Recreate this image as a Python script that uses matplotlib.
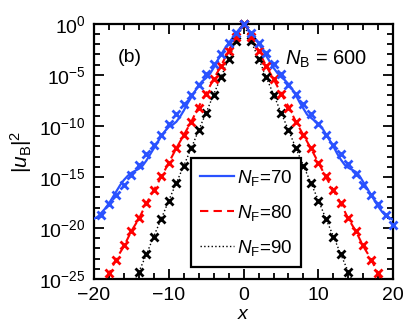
import numpy as np
import matplotlib
matplotlib.use('Agg')
import matplotlib.pyplot as plt
from matplotlib.ticker import FixedLocator, NullFormatter, FuncFormatter

plt.rcParams['font.family'] = ['Liberation Sans', 'DejaVu Sans']
plt.rcParams['mathtext.fontset'] = 'custom'
plt.rcParams['mathtext.rm'] = 'Liberation Sans'
plt.rcParams['mathtext.it'] = 'Liberation Sans:italic'
plt.rcParams['mathtext.bf'] = 'Liberation Sans:bold'

# log10 |u_B|^2
x_blue_line = np.arange(-20, 20.5, 0.5)
blue_line = [-19.1, -18.9, -18.5, -18.1, -17.6, -17.0, -16.4, -15.8, -15.3, -14.9,
             -14.6, -14.4, -14.2, -13.9, -13.4, -12.8, -12.2, -11.6, -11.0, -10.5,
             -10.1, -9.9, -9.6, -9.1, -8.5, -7.8, -7.2, -6.6, -6.0, -5.6,
             -5.3, -4.9, -4.3, -3.6, -3.0, -2.4, -1.9, -1.4, -0.9, -0.45, 0.0,
             -0.45, -0.9, -1.4, -1.9, -2.5, -3.1, -3.7, -4.3, -4.8, -5.2,
             -5.5, -5.9, -6.4, -7.0, -7.7, -8.3, -8.9, -9.2, -9.5, -9.8,
             -10.2, -10.8, -11.4, -12.0, -12.7, -13.3, -13.8, -14.1, -14.3, -14.5,
             -14.9, -15.5, -16.1, -16.7, -17.3, -17.9, -18.4, -18.8, -19.0, -19.2]
x_line = np.arange(-20, 21)
red_line = [-27.2, -25.9, -24.5, -23.0, -21.8, -20.3, -19.1, -17.6, -16.3, -15.0,
            -13.6, -12.2, -10.9, -9.6, -8.1, -6.8, -5.4, -4.1, -2.6, -1.3, 0.0,
            -1.3, -2.6, -4.1, -5.4, -6.8, -8.1, -9.6, -10.9, -12.2, -13.6,
            -15.0, -16.3, -17.6, -19.1, -20.3, -21.8, -23.0, -24.5, -25.9, -27.2]
x_black_line = np.arange(-15, 16)
black_line = [-26.0, -24.3, -22.6, -20.8, -19.1, -17.3, -15.6, -13.9, -12.2, -10.4,
              -8.7, -6.9, -5.2, -3.4, -1.7, 0.0,
              -1.7, -3.4, -5.2, -6.9, -8.7, -10.4, -12.2, -13.9, -15.6, -17.3,
              -19.1, -20.8, -22.6, -24.3, -26.0]

x_blue_pts = np.arange(-19, 21)
blue_pts = [-18.7, -17.7, -16.8, -15.8, -14.8, -13.8, -12.8, -11.9, -10.9, -9.8,
            -8.8, -7.9, -7.0, -6.0, -4.9, -3.9, -3.0, -1.9, -0.9, 0.0,
            -0.9, -1.9, -2.9, -3.9, -4.9, -6.0, -6.9, -7.9, -8.85, -9.8,
            -10.85, -11.9, -12.8, -13.75, -14.75, -15.8, -16.8, -17.7, -18.7, -19.7]
x_red_pts = np.arange(-18, 19)
red_pts = [-24.4, -23.1, -21.7, -20.3, -19.0, -17.6, -16.3, -14.9, -13.6, -12.2,
           -10.9, -9.6, -8.2, -6.9, -5.4, -4.1, -2.7, -1.3, 0.0,
           -1.3, -2.7, -4.1, -5.4, -6.9, -8.2, -9.6, -10.9, -12.2, -13.6,
           -14.9, -16.3, -17.6, -19.0, -20.3, -21.7, -23.1, -24.4]
x_black_pts = np.arange(-14, 15)
black_pts = [-24.3, -22.6, -20.85, -19.1, -17.35, -15.6, -13.9, -12.2, -10.45, -8.7,
             -6.95, -5.2, -3.45, -1.7, 0.0,
             -1.7, -3.45, -5.2, -6.95, -8.7, -10.45, -12.2, -13.9, -15.6, -17.35,
             -19.1, -20.85, -22.6, -24.3]

labels = ['$N_\\mathrm{F}$=70', '$N_\\mathrm{F}$=80', '$N_\\mathrm{F}$=90']
blue = '#2a52ff'
red = '#ff0000'

fig = plt.figure(figsize=(4.07, 3.27), dpi=100)
ax = fig.add_axes([0.231, 0.147, 0.735, 0.780])

l3, = ax.plot(x_black_line, 10.0**np.array(black_line), ':', color='k', lw=1.0, label=labels[2], zorder=2)
l2, = ax.plot(x_line, 10.0**np.array(red_line), '--', color=red, lw=1.5, dashes=(4, 2.5), label=labels[1], zorder=3)
l1, = ax.plot(x_blue_line, 10.0**np.array(blue_line), '-', color=blue, lw=1.6, label=labels[0], zorder=4)

ax.plot(x_black_pts, 10.0**np.array(black_pts), 'x', color='k', ms=5.5, mew=2, clip_on=False, zorder=5)
ax.plot(x_red_pts, 10.0**np.array(red_pts), 'x', color=red, ms=5.5, mew=2, clip_on=False, zorder=6)
ax.plot(x_blue_pts, 10.0**np.array(blue_pts), 'x', color=blue, ms=5.5, mew=2, clip_on=False, zorder=7)

ax.set_yscale('log')
ax.set_xlim(-20, 20)
ax.set_ylim(1e-25, 1e0)
ax.set_xticks([-20, -10, 0, 10, 20])
ax.set_xticklabels(['\u221220', '\u221210', '0', '10', '20'])
ax.xaxis.set_minor_locator(FixedLocator(np.arange(-20, 21, 2)))
ax.yaxis.set_major_locator(FixedLocator(10.0**np.arange(-25, 1, 5)))
ax.yaxis.set_minor_locator(FixedLocator(10.0**np.arange(-25, 1, 1)))
ax.yaxis.set_minor_formatter(NullFormatter())
ax.yaxis.set_major_formatter(FuncFormatter(lambda v, p: '$10^{%d}$' % round(np.log10(v))))

ax.tick_params(which='both', direction='in', top=True, right=True, labelsize=14, width=1.3)
ax.tick_params(which='major', length=7, pad=6)
ax.tick_params(which='minor', length=4)
for s in ax.spines.values():
    s.set_linewidth(1.6)

ax.set_xlabel('$x$', fontsize=14, labelpad=1)
ax.set_ylabel('$|u_\\mathrm{B}|^2$', fontsize=15)
ax.yaxis.set_label_coords(-0.2, 0.5)

ax.text(0.08, 0.87, '(b)', transform=ax.transAxes, fontsize=14, va='center')
ax.text(0.64, 0.86, '$N_\\mathrm{B}$ = 600', transform=ax.transAxes, fontsize=14.5, va='center')

leg = ax.legend(handles=[l1, l2, l3], loc='lower left', bbox_to_anchor=(0.324, 0.047), fontsize=13.5,
                handlelength=1.8, handletextpad=0.15, labelspacing=0.8, borderpad=0.5,
                fancybox=False, framealpha=1, edgecolor='k', borderaxespad=0)
leg.get_frame().set_linewidth(1.6)

fig.savefig('out.png', dpi=100)
